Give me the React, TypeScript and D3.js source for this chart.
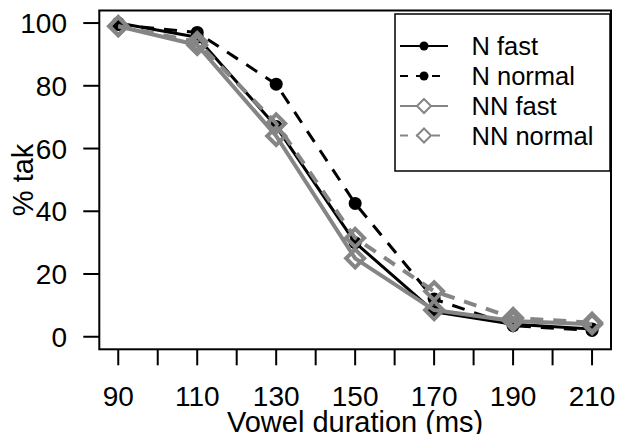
import React, { useEffect, useRef } from "react";
import * as d3 from "d3";

// vowel duration (ms) on x, % "tak" responses on y
const durations = [90, 110, 130, 150, 170, 190, 210];
const nFast = [100, 95.5, 67, 30, 8, 4, 2.5];
const nNormal = [99.5, 97, 80.5, 42.5, 12, 3.5, 2];
const nnFast = [99, 93, 64, 25, 8.5, 5, 4];
const nnNormal = [99, 94, 68, 31.5, 14.5, 6, 4.5];

const xTicks = [90, 100, 110, 120, 130, 140, 150, 160, 170, 180, 190, 200, 210];
const xLabels = [90, 110, 130, 150, 170, 190, 210];
const yTicks = [0, 20, 40, 60, 80, 100];

const seriesNames = ["N fast", "N normal", "NN fast", "NN normal"];

const FONT = "'Liberation Sans', Arial, sans-serif";
const GREY = "#858585";

const App = () => {
  const ref = useRef<SVGSVGElement>(null);

  useEffect(() => {
    const svg = d3.select(ref.current);
    svg.selectAll("*").remove();

    const box = { left: 99.3, right: 611, top: 10.5, bottom: 349.3 };

    const x = d3.scaleLinear().domain([85.2, 214.8]).range([box.left, box.right]);
    const y = d3.scaleLinear().domain([-4, 104]).range([box.bottom, box.top]);

    const series = [
      { name: seriesNames[0], values: nFast, color: "#000", dash: null, shape: "dot", lw: 3 },
      { name: seriesNames[1], values: nNormal, color: "#000", dash: "13,10", shape: "dot", lw: 3 },
      { name: seriesNames[2], values: nnFast, color: GREY, dash: null, shape: "diamond", lw: 4 },
      { name: seriesNames[3], values: nnNormal, color: GREY, dash: "13,10", shape: "diamond", lw: 4 },
    ];

    const line = d3.line<number>()
      .x((d, i) => x(durations[i]))
      .y(d => y(d));

    const diamond = (cx: number, cy: number, r: number) =>
      `M${cx},${cy - r}L${cx + r},${cy}L${cx},${cy + r}L${cx - r},${cy}Z`;

    const plot = svg.append("g");

    series.forEach(s => {
      plot.append("path")
        .attr("d", line(s.values))
        .attr("fill", "none")
        .attr("stroke", s.color)
        .attr("stroke-width", s.lw)
        .attr("stroke-dasharray", s.dash)
        .attr("stroke-linejoin", "round");

      if (s.shape === "dot") {
        plot.selectAll(null)
          .data(s.values)
          .enter()
          .append("circle")
          .attr("cx", (d, i) => x(durations[i]))
          .attr("cy", d => y(d))
          .attr("r", 6.5)
          .attr("fill", s.color);
      } else {
        plot.selectAll(null)
          .data(s.values)
          .enter()
          .append("path")
          .attr("d", (d, i) => diamond(x(durations[i]), y(d), 9))
          .attr("fill", "none")
          .attr("stroke", s.color)
          .attr("stroke-width", 4)
          .attr("stroke-linejoin", "miter");
      }
    });

    // frame
    svg.append("rect")
      .attr("x", box.left)
      .attr("y", box.top)
      .attr("width", box.right - box.left)
      .attr("height", box.bottom - box.top)
      .attr("fill", "none")
      .attr("stroke", "#000")
      .attr("stroke-width", 2);

    // x axis
    svg.selectAll(".xtick")
      .data(xTicks)
      .enter()
      .append("line")
      .attr("class", "xtick")
      .attr("x1", d => x(d))
      .attr("x2", d => x(d))
      .attr("y1", box.bottom)
      .attr("y2", box.bottom + 16)
      .attr("stroke", "#000")
      .attr("stroke-width", 2);

    svg.selectAll(".xlab")
      .data(xLabels)
      .enter()
      .append("text")
      .attr("class", "xlab")
      .attr("x", d => x(d))
      .attr("y", 406)
      .attr("text-anchor", "middle")
      .style("font-family", FONT)
      .style("font-size", "28px")
      .text(d => d);

    // y axis
    svg.selectAll(".ytick")
      .data(yTicks)
      .enter()
      .append("line")
      .attr("class", "ytick")
      .attr("x1", box.left - 16)
      .attr("x2", box.left)
      .attr("y1", d => y(d))
      .attr("y2", d => y(d))
      .attr("stroke", "#000")
      .attr("stroke-width", 2);

    svg.selectAll(".ylab")
      .data(yTicks)
      .enter()
      .append("text")
      .attr("class", "ylab")
      .attr("x", 67)
      .attr("y", d => y(d) + 10)
      .attr("text-anchor", "end")
      .style("font-family", FONT)
      .style("font-size", "28px")
      .text(d => d);

    svg.append("text")
      .attr("x", (box.left + box.right) / 2)
      .attr("y", 432)
      .attr("text-anchor", "middle")
      .style("font-family", FONT)
      .style("font-size", "29px")
      .text("Vowel duration (ms)");

    svg.append("text")
      .attr("transform", `translate(33,${(box.top + box.bottom) / 2}) rotate(-90)`)
      .attr("text-anchor", "middle")
      .style("font-family", FONT)
      .style("font-size", "29px")
      .text("% tak");

    // legend
    const legend = svg.append("g");
    legend.append("rect")
      .attr("x", 395)
      .attr("y", 14)
      .attr("width", 215)
      .attr("height", 157)
      .attr("fill", "#fff")
      .attr("stroke", "#000")
      .attr("stroke-width", 1.5);

    const rowY = [46, 76, 106, 135.5];
    series.forEach((s, i) => {
      const cy = rowY[i];
      legend.append("line")
        .attr("x1", 400)
        .attr("x2", 448)
        .attr("y1", cy)
        .attr("y2", cy)
        .attr("stroke", s.color)
        .attr("stroke-width", 2.2)
        .attr("stroke-dasharray", s.dash ? "8,8" : null);
      if (s.shape === "dot") {
        legend.append("circle")
          .attr("cx", 424)
          .attr("cy", cy)
          .attr("r", 4.5)
          .attr("fill", s.color);
      } else {
        legend.append("path")
          .attr("d", diamond(424, cy, 7))
          .attr("fill", "#fff")
          .attr("stroke", s.color)
          .attr("stroke-width", 2);
      }
      legend.append("text")
        .attr("x", 471.5)
        .attr("y", cy + 9)
        .style("font-family", FONT)
        .style("font-size", "25.5px")
        .text(s.name);
    });
  }, []);

  return (
    <svg
      ref={ref}
      width={618}
      height={434}
      style={{ position: "absolute", left: 0, top: 0, background: "#fff" }}
    />
  );
};

export default App;
